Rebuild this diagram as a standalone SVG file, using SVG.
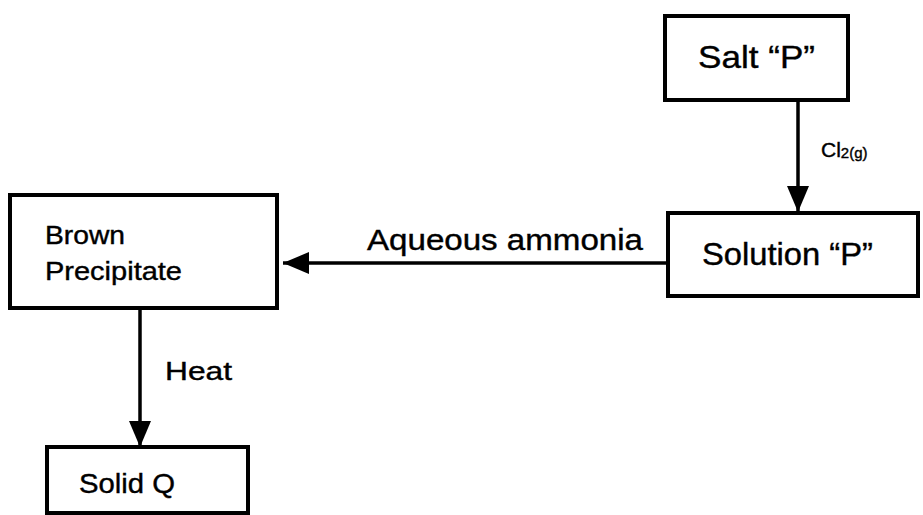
<svg xmlns="http://www.w3.org/2000/svg" width="923" height="515" viewBox="0 0 923 515">
<defs>
<style>
.box{fill:#fff;stroke:#000;stroke-width:4}
.t{font-family:"Liberation Sans",Arial,sans-serif;fill:#000;stroke:#000;stroke-width:0.4}
.c{stroke:#000;stroke-width:3.5;fill:none}
</style>
<marker id="ah" markerUnits="userSpaceOnUse" markerWidth="27" markerHeight="24" refX="26" refY="12" orient="auto" viewBox="0 0 27 24">
<path d="M0,1 L26,12 L0,23 z" fill="#000"/>
</marker>
</defs>
<rect width="923" height="515" fill="#fff"/>
<g id="connectors">
<line class="c" x1="798" y1="100" x2="798" y2="212" marker-end="url(#ah)"/>
<line class="c" x1="668" y1="263" x2="283" y2="263" marker-end="url(#ah)"/>
<line class="c" x1="140" y1="308" x2="140" y2="447" marker-end="url(#ah)"/>
<text class="t" x="821" y="157" font-size="21">Cl<tspan font-size="15" dy="1">2(g)</tspan></text>
<text class="t" x="367" y="250" font-size="29" textLength="276" lengthAdjust="spacingAndGlyphs">Aqueous ammonia</text>
<text class="t" x="165" y="380" font-size="25" textLength="67" lengthAdjust="spacingAndGlyphs">Heat</text>
</g>
<g id="salt">
<rect class="box" x="665" y="16" width="183" height="84"/>
<text class="t" x="698" y="68" font-size="32" textLength="117" lengthAdjust="spacingAndGlyphs">Salt “P”</text>
</g>
<g id="solution">
<rect class="box" x="668" y="213" width="250" height="83"/>
<text class="t" x="702" y="265" font-size="31" textLength="171" lengthAdjust="spacingAndGlyphs">Solution “P”</text>
</g>
<g id="brown">
<rect class="box" x="10" y="195" width="267" height="113"/>
<text class="t" x="45" y="244" font-size="26" textLength="80" lengthAdjust="spacingAndGlyphs">Brown</text>
<text class="t" x="45" y="280" font-size="26" textLength="137" lengthAdjust="spacingAndGlyphs">Precipitate</text>
</g>
<g id="solidq">
<rect class="box" x="47" y="447" width="201" height="66"/>
<text class="t" x="79" y="493" font-size="28" textLength="96" lengthAdjust="spacingAndGlyphs">Solid Q</text>
</g>
</svg>
